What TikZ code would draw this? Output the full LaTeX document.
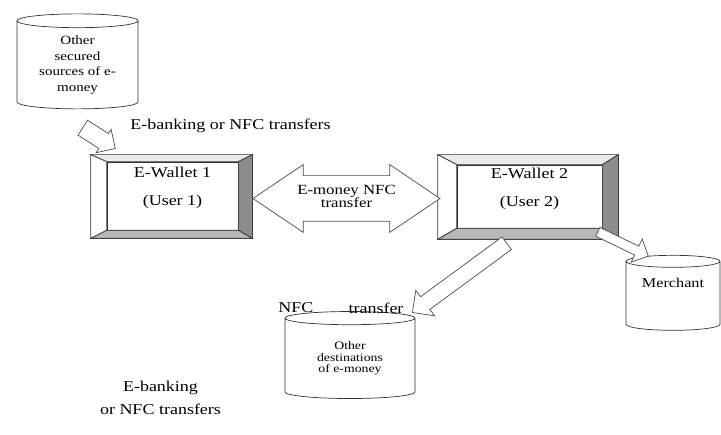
\documentclass[tikz,border=0pt]{standalone}
\usepackage{fontspec}
\setmainfont[FakeStretch=1.2]{Liberation Serif}
\usetikzlibrary{shapes.geometric, shapes.arrows}

\begin{document}
\begin{tikzpicture}[x=1pt, y=-1pt, line width=0.7pt,
    cyl/.style={cylinder, shape border rotate=90, draw=black!80, fill=white, align=center, inner sep=0pt},
    wallet/.style={rectangle, draw=black!80, fill=white, inner sep=0pt},
    wtext/.style={align=center, font=\fontsize{15}{18}\selectfont, inner sep=0pt, yshift=8pt},
    flow/.style={single arrow, draw=black!70, fill=white, single arrow head extend=#1, inner xsep=0pt, anchor=tail},
    note/.style={font=\fontsize{15}{18}\selectfont, inner sep=0pt}]
  \useasboundingbox (0,0) rectangle (721,435);

  % data stores
  \node[cyl, minimum width=121, minimum height=95, aspect=0.18, font=\fontsize{12.5}{15.5}\selectfont] (src) at (77.5,65) {Other\\secured\\sources of e-\\money};
  \node[cyl, minimum width=130, minimum height=87, aspect=0.2, font=\fontsize{11.5}{11.5}\selectfont] (dest) at (350,358.5) {Other\\destinations\\of e-money};
  \node[cyl, minimum width=94, minimum height=75, text width=60, aspect=0.2, label={[note, font=\fontsize{13.5}{16}\selectfont, yshift=13pt]center:Merchant}] (shop) at (673,296) {};

  % wallets
  \node[wallet, minimum width=161, minimum height=83] (w1) at (171.5,196.5) {};
  \node[wallet, minimum width=131, minimum height=68, label={[wtext]center:E-Wallet 1\\[10pt](User 1)}] (w1-in) at (172.5,196) {};
  \node[wallet, minimum width=180, minimum height=84] (w2) at (528,197) {};
  \node[wallet, minimum width=145, minimum height=63, label={[wtext]center:E-Wallet 2\\[10pt](User 2)}] (w2-in) at (529.5,196.5) {};

  \foreach \w in {w1, w2} {
    \filldraw[draw=black!80, fill=black!8] (\w.north west) -- (\w.north east) -- (\w-in.north east) -- (\w-in.north west) -- cycle;
    \filldraw[draw=black!80, fill=white] (\w.north west) -- (\w.south west) -- (\w-in.south west) -- (\w-in.north west) -- cycle;
    \filldraw[draw=black!80, fill=black!45] (\w.north east) -- (\w.south east) -- (\w-in.south east) -- (\w-in.north east) -- cycle;
    \filldraw[draw=black!80, fill=black!28] (\w.south west) -- (\w.south east) -- (\w-in.south east) -- (\w-in.south west) -- cycle;
  }

  % transfers
  \node[double arrow, draw=black!70, fill=white, minimum height=187, minimum width=67, double arrow head extend=11, double arrow tip angle=68, inner xsep=0pt, inner ysep=22.5pt,
        label={[align=center, font=\fontsize{14}{13}\selectfont, inner sep=0pt, yshift=2pt]center:E-money NFC\\transfer}] (nfc) at (346.5,198.5) {};
  \node[flow=5, minimum height=38.6, minimum width=27, inner ysep=8.5pt, rotate=-32.6] (in1) at (82.5,127.5) {};
  \node[flow=8, minimum height=117, minimum width=31, inner ysep=7.5pt, rotate=-143.7] (out1) at (507,243) {};
  \node[flow=8, minimum height=56, minimum width=25, inner ysep=4.5pt, rotate=-25.7] (out2) at (597.5,231.7) {};

  % labels
  \node[note] (bank1) at (230.5,126) {E-banking or NFC transfers};
  \node[note] (nfc1) at (296,308) {NFC};
  \node[note] (nfc2) at (376,308) {transfer};
  \node[note, align=center] (bank2) at (160.5,398) {E-banking\\[5pt]or NFC transfers};
\end{tikzpicture}
\end{document}
